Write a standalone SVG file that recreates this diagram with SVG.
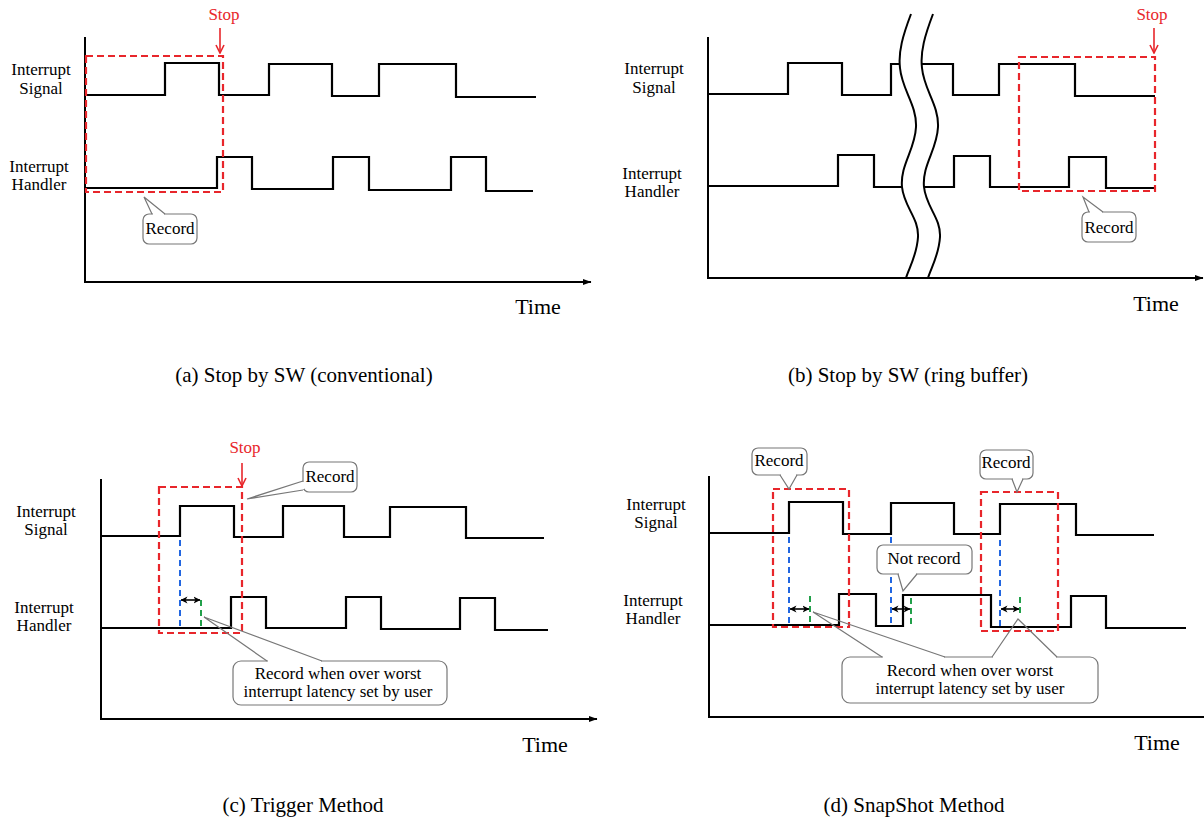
<svg xmlns="http://www.w3.org/2000/svg" width="1204" height="822" viewBox="0 0 1204 822">
<style>
.sig{fill:none;stroke:#000;stroke-width:2.2;stroke-linejoin:miter}
.axis{fill:none;stroke:#000;stroke-width:2}
.red{fill:none;stroke:#e8262b;stroke-width:2.2;stroke-dasharray:7 4}
.blue{fill:none;stroke:#2166e0;stroke-width:2;stroke-dasharray:6 4}
.green{fill:none;stroke:#22a04a;stroke-width:2;stroke-dasharray:6 4}
.box{fill:#fff;stroke:#777;stroke-width:1.2}
.tail{fill:none;stroke:#777;stroke-width:1.2}
.erase{stroke:#fff;stroke-width:2.6}
.stoparr{stroke:#e8262b;stroke-width:1.6;fill:none}
.dbl{stroke:#000;stroke-width:1.6;fill:none}
.brk{fill:#fff;stroke:none}
.brkl{fill:none;stroke:#000;stroke-width:2}
text{font-family:"Liberation Serif","Times New Roman",serif;fill:#000;text-anchor:middle}
.lbl{font-size:17px}
.time{font-size:22px}
.cap{font-size:21px}
.stop{font-size:17px;fill:#e8262b}
</style>
<defs>
<marker id="ax" markerUnits="userSpaceOnUse" markerWidth="9" markerHeight="8" viewBox="0 0 9 8" refX="8.5" refY="4" orient="auto">
<path d="M0,0.8 L9,4 L0,7.2 Z" fill="#000"/>
</marker>
<marker id="st" markerUnits="userSpaceOnUse" markerWidth="10" markerHeight="10" viewBox="0 0 10 10" refX="9" refY="5" orient="auto">
<path d="M1,1 L9,5 L1,9" fill="none" stroke="#e8262b" stroke-width="1.6"/>
</marker>
<marker id="dh" markerUnits="userSpaceOnUse" markerWidth="7" markerHeight="8" viewBox="0 0 7 8" refX="6.5" refY="4" orient="auto-start-reverse">
<path d="M0,0.5 L7,4 L0,7.5 L2,4 Z" fill="#000"/>
</marker>
</defs>

<!-- Panel (a) -->
<g id="panel-a">
<path class="axis" d="M85,37 V282 H591" marker-end="url(#ax)"/>
<text class="lbl" x="41" y="75">Interrupt</text>
<text class="lbl" x="41" y="94">Signal</text>
<text class="lbl" x="39" y="172">Interrupt</text>
<text class="lbl" x="39" y="190">Handler</text>
<path id="a-signal" class="sig" d="M86,95 H165 V63 H219 V95 H269 V64 H332 V96 H379 V64 H456 V97 H536"/>
<path id="a-handler" class="sig" d="M86,188 H217 V157 H252 V189 H333 V157 H369 V190 H451 V157 H486 V191 H533"/>
<rect id="a-range" class="red" x="86" y="56" width="137" height="136"/>
<text class="stop" x="224" y="20">Stop</text>
<text class="time" x="538" y="314">Time</text>
<g id="a-record">
<rect class="box" x="143" y="214" width="54" height="30" rx="6"/>
<line class="erase" x1="153" y1="214" x2="164" y2="214"/>
<path class="tail" d="M152,214 L144,197 L165,214"/>
<text class="lbl" x="170" y="234">Record</text>
</g>
<text class="cap" x="304" y="382">(a) Stop by SW (conventional)</text>
</g>

<!-- Panel (b) -->
<g id="panel-b">
<text class="lbl" x="654" y="74">Interrupt</text>
<text class="lbl" x="654" y="93">Signal</text>
<text class="lbl" x="652" y="179">Interrupt</text>
<text class="lbl" x="652" y="197">Handler</text>
<path id="b-signal" class="sig" d="M708,94 H788 V63 H842 V95 H891 V64 H953 V95 H999 V64 H1075 V96 H1155"/>
<path id="b-handler" class="sig" d="M708,186 H838 V155 H874 V187 H954 V156 H990 V187 H1069 V157 H1106 V188 H1155"/>
<g id="b-break">
<path class="brk" d="M911,14 C903,35 898,52 900,68 C902,90 917,105 916,127 C915,150 900,165 902,187 C904,207 919,218 918,237 C917,255 909,268 906,278 L928,278 C931,268 939,255 940,237 C941,218 926,207 924,187 C922,165 937,150 938,127 C939,105 924,90 922,68 C920,52 925,35 933,14 Z"/>
<path class="brkl" d="M911,14 C903,35 898,52 900,68 C902,90 917,105 916,127 C915,150 900,165 902,187 C904,207 919,218 918,237 C917,255 909,268 906,278"/>
<path class="brkl" d="M933,14 C925,35 920,52 922,68 C924,90 939,105 938,127 C937,150 922,165 924,187 C926,207 941,218 940,237 C939,255 931,268 928,278"/>
</g>
<path class="axis" d="M708,37 V278 H1203" marker-end="url(#ax)"/>
<rect id="b-range" class="red" x="1019" y="57" width="136" height="134"/>
<text class="stop" x="1152" y="20">Stop</text>
<text class="time" x="1156" y="311">Time</text>
<g id="b-record">
<rect class="box" x="1082" y="212" width="54" height="30" rx="6"/>
<line class="erase" x1="1090" y1="212" x2="1102" y2="212"/>
<path class="tail" d="M1089,212 L1083,197 L1103,212"/>
<text class="lbl" x="1109" y="233">Record</text>
</g>
<text class="cap" x="908" y="382">(b) Stop by SW (ring buffer)</text>
</g>

<!-- Panel (c) -->
<g id="panel-c">
<path class="axis" d="M101,479 V719 H597" marker-end="url(#ax)"/>
<text class="lbl" x="46" y="517">Interrupt</text>
<text class="lbl" x="46" y="535">Signal</text>
<text class="lbl" x="44" y="613">Interrupt</text>
<text class="lbl" x="44" y="631">Handler</text>
<path id="c-signal" class="sig" d="M101,536 H180 V506 H234 V537 H283 V506 H344 V537 H390 V507 H466 V538 H544"/>
<path id="c-handler" class="sig" d="M101,628 H231 V597 H266 V628 H346 V597 H381 V629 H460 V598 H495 V630 H548"/>
<line class="blue" x1="180" y1="540" x2="180" y2="628"/>
<line class="green" x1="201" y1="600" x2="201" y2="628"/>
<rect id="c-range" class="red" x="159" y="487" width="83" height="146"/>
<text class="stop" x="245" y="453">Stop</text>
<text class="time" x="545" y="752">Time</text>
<g id="c-record">
<rect class="box" x="303" y="462" width="54" height="30" rx="6"/>
<line class="erase" x1="303" y1="482" x2="303" y2="489"/>
<path class="tail" d="M303,481 L247,499 L303,490"/>
<text class="lbl" x="330" y="482">Record</text>
</g>
<g id="c-note">
<rect class="box" x="233" y="661" width="214" height="44" rx="8"/>
<line class="erase" x1="268" y1="661" x2="321" y2="661"/>
<path class="tail" d="M267,661 L204,617 L322,661"/>
<text class="lbl" x="338" y="679">Record when over worst</text>
<text class="lbl" x="338" y="697">interrupt latency set by user</text>
</g>
<text class="cap" x="303" y="812">(c) Trigger Method</text>
</g>

<!-- Panel (d) -->
<g id="panel-d">
<path class="axis" d="M709,476 V717 H1204"/>
<text class="lbl" x="656" y="510">Interrupt</text>
<text class="lbl" x="656" y="528">Signal</text>
<text class="lbl" x="653" y="606">Interrupt</text>
<text class="lbl" x="653" y="624">Handler</text>
<path id="d-signal" class="sig" d="M709,533 H789 V502 H843 V534 H891 V503 H954 V534 H1000 V504 H1076 V535 H1154"/>
<path id="d-handler" class="sig" d="M709,625 H839 V594 H876 V626 H903 V595 H991 V627 H1071 V596 H1106 V628 H1186"/>
<line class="blue" x1="789" y1="537" x2="789" y2="625"/>
<line class="blue" x1="891" y1="537" x2="891" y2="626"/>
<line class="blue" x1="1000" y1="540" x2="1000" y2="627"/>
<line class="green" x1="810" y1="596" x2="810" y2="625"/>
<line class="green" x1="911" y1="598" x2="911" y2="626"/>
<line class="green" x1="1020" y1="597" x2="1020" y2="615"/>
<rect id="d-range1" class="red" x="773" y="489" width="76" height="138"/>
<rect id="d-range2" class="red" x="981" y="492" width="77" height="139"/>
<text class="time" x="1157" y="750">Time</text>
<g id="d-record1">
<rect class="box" x="752" y="448" width="55" height="27" rx="6"/>
<line class="erase" x1="781" y1="475" x2="796" y2="475"/>
<path class="tail" d="M780,475 L789,489 L797,475"/>
<text class="lbl" x="779" y="466">Record</text>
</g>
<g id="d-record2">
<rect class="box" x="980" y="450" width="53" height="29" rx="6"/>
<line class="erase" x1="1013" y1="479" x2="1022" y2="479"/>
<path class="tail" d="M1012,479 L1017,492 L1023,479"/>
<text class="lbl" x="1006" y="468">Record</text>
</g>
<g id="d-notrecord">
<rect class="box" x="877" y="545" width="95" height="29" rx="6"/>
<line class="erase" x1="899" y1="574" x2="916" y2="574"/>
<path class="tail" d="M898,574 L903,591 L917,574"/>
<text class="lbl" x="924" y="564">Not record</text>
</g>
<g id="d-note">
<rect class="box" x="842" y="657" width="256" height="46" rx="8"/>
<line class="erase" x1="883" y1="657" x2="944" y2="657"/>
<line class="erase" x1="993" y1="657" x2="1056" y2="657"/>
<path class="tail" d="M882,657 L813,612 L945,657"/>
<path class="tail" d="M992,657 L1018,619 L1057,657"/>
<text class="lbl" x="970" y="676">Record when over worst</text>
<text class="lbl" x="970" y="694">interrupt latency set by user</text>
</g>
<text class="cap" x="914" y="812">(d) SnapShot Method</text>
</g>

<!-- Connectors: stop arrows and latency arrows -->
<g id="connectors">
<line class="stoparr" x1="220" y1="28" x2="220" y2="53" marker-end="url(#st)"/>
<line class="stoparr" x1="1154" y1="28" x2="1154" y2="53" marker-end="url(#st)"/>
<line class="stoparr" x1="242" y1="463" x2="242" y2="486" marker-end="url(#st)"/>
<line class="dbl" x1="181" y1="600" x2="200" y2="600" marker-start="url(#dh)" marker-end="url(#dh)"/>
<line class="dbl" x1="790" y1="609" x2="809" y2="609" marker-start="url(#dh)" marker-end="url(#dh)"/>
<line class="dbl" x1="892" y1="609" x2="910" y2="609" marker-start="url(#dh)" marker-end="url(#dh)"/>
<line class="dbl" x1="1001" y1="609" x2="1019" y2="609" marker-start="url(#dh)" marker-end="url(#dh)"/>
</g>
</svg>
